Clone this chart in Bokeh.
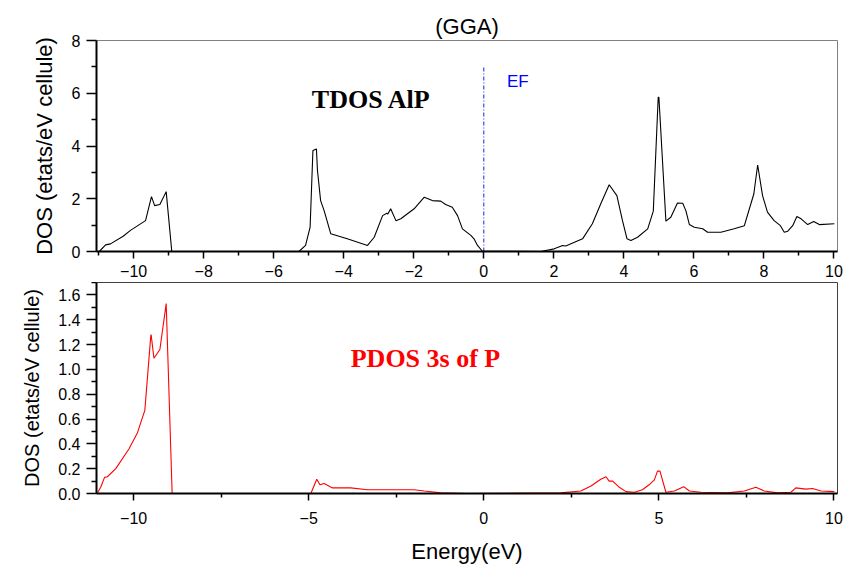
from bokeh.plotting import figure
from bokeh.models import Range1d, FixedTicker, Label, PrintfTickFormatter
from bokeh.layouts import column
from bokeh.embed import file_html
from bokeh.resources import INLINE

# ---- data ----
tdos_energy = [-10.98, -10.8, -10.66, -10.3, -10.09, -9.66, -9.49, -9.4, -9.25, -9.07, -8.91,
               -5.28, -5.09, -4.96, -4.88, -4.78, -4.75, -4.66, -4.56, -4.37, -3.9, -3.32,
               -3.13, -2.89, -2.77, -2.74, -2.66, -2.51, -2.37, -1.99, -1.70, -1.47, -1.23,
               -1.09, -0.9, -0.75, -0.61, -0.37, -0.28, -0.18, -0.04,
               1.63, 2.01, 2.25, 2.34, 2.82, 3.1, 3.34, 3.58, 3.8, 3.96, 4.09, 4.2, 4.39,
               4.68, 4.84, 4.98, 5.0, 5.2, 5.34, 5.53, 5.68, 5.77, 5.87, 6.01, 6.25, 6.39,
               6.77, 7.15, 7.44, 7.71, 7.82, 7.96, 8.1, 8.29, 8.47, 8.58, 8.68, 8.82, 8.94,
               9.06, 9.25, 9.42, 9.58, 10.01]
tdos_values = [0.0, 0.25, 0.29, 0.58, 0.8, 1.17, 2.08, 1.74, 1.78, 2.27, 0.0,
               0.0, 0.23, 0.92, 3.83, 3.89, 3.07, 1.93, 1.55, 0.67, 0.48, 0.23,
               0.54, 1.36, 1.45, 1.42, 1.62, 1.17, 1.24, 1.62, 2.06, 1.93, 1.91,
               1.78, 1.68, 1.36, 0.86, 0.61, 0.48, 0.23, 0.01,
               0.0, 0.1, 0.23, 0.21, 0.48, 1.05, 1.81, 2.53, 2.12, 1.17, 0.48, 0.42, 0.54,
               0.86, 1.53, 5.85, 5.85, 1.15, 1.3, 1.84, 1.83, 1.55, 1.02, 0.92, 0.86, 0.73,
               0.73, 0.86, 0.98, 2.18, 3.28, 2.12, 1.49, 1.17, 0.98, 0.73, 0.77, 0.98, 1.33,
               1.24, 1.02, 1.14, 1.02, 1.05]

pdos_energy = [-11.02, -10.94, -10.83, -10.75, -10.51, -10.13, -9.89, -9.68, -9.51, -9.5,
               -9.42, -9.25, -9.07, -8.9, -4.94, -4.91, -4.77, -4.68, -4.56, -4.32, -3.8,
               -3.32, -1.99, -1.7, -1.23, -0.5, 2.2, 2.77, 3.06, 3.34, 3.49, 3.58, 3.68,
               3.87, 4.06, 4.3, 4.53, 4.72, 4.87, 4.96, 5.03, 5.2, 5.44, 5.71, 5.87, 6.2,
               6.96, 7.44, 7.77, 8.01, 8.39, 8.77, 8.91, 9.2, 9.39, 9.63, 10.01]
pdos_values = [0.01, 0.05, 0.13, 0.135, 0.2, 0.36, 0.49, 0.67, 1.27, 1.28,
               1.09, 1.16, 1.53, 0.0, 0.0, 0.02, 0.115, 0.07, 0.08, 0.045, 0.045,
               0.03, 0.03, 0.02, 0.005, 0.0, 0.005, 0.02, 0.06, 0.115, 0.135, 0.1, 0.1,
               0.05, 0.015, 0.01, 0.03, 0.07, 0.11, 0.18, 0.18, 0.01, 0.02, 0.055, 0.02, 0.01,
               0.005, 0.02, 0.05, 0.02, 0.005, 0.01, 0.045, 0.035, 0.04, 0.02, 0.015]

fermi_energy = [0, 0]
fermi_dos = [0, 7]

top_xticks = [-10, -8, -6, -4, -2, 0, 2, 4, 6, 8, 10]
top_xminor = [-11, -9, -7, -5, -3, -1, 1, 3, 5, 7, 9]
top_yticks = [0, 2, 4, 6, 8]
top_yminor = [1, 3, 5, 7]
bot_xticks = [-10, -5, 0, 5, 10]
bot_xminor = [-7.5, -2.5, 2.5, 7.5]
bot_yticks = [0.0, 0.2, 0.4, 0.6, 0.8, 1.0, 1.2, 1.4, 1.6]
bot_yminor = [0.1, 0.3, 0.5, 0.7, 0.9, 1.1, 1.3, 1.5, 1.7]

SANS = "Liberation Sans"
SERIF = "Liberation Serif"
W = 846


def style(p, xt, xm, yt, ym, yfmt=None):
    p.xgrid.visible = False
    p.ygrid.visible = False
    p.xaxis[0].ticker = FixedTicker(ticks=xt, minor_ticks=xm)
    p.yaxis[0].ticker = FixedTicker(ticks=yt, minor_ticks=ym)
    if yfmt:
        p.yaxis[0].formatter = PrintfTickFormatter(format=yfmt)
    for ax in (p.xaxis[0], p.yaxis[0]):
        ax.axis_line_width = 2
        ax.axis_line_color = "black"
        ax.major_tick_in = 0
        ax.minor_tick_in = 0
        ax.major_tick_line_width = 1.5
        ax.minor_tick_line_width = 1.5
        ax.major_tick_line_color = "black"
        ax.minor_tick_line_color = "black"
        ax.major_label_text_font = SANS
        ax.major_label_text_font_size = "16px"
        ax.major_label_text_color = "black"
        ax.axis_label_text_font = SANS
        ax.axis_label_text_font_size = "22px"
        ax.axis_label_text_font_style = "normal"
        ax.axis_label_text_color = "black"
    p.xaxis[0].major_tick_out = 7
    p.xaxis[0].minor_tick_out = 4
    p.yaxis[0].major_tick_out = 10
    p.yaxis[0].minor_tick_out = 5
    p.xaxis[0].major_label_standoff = 6
    p.yaxis[0].major_label_standoff = 6
    p.yaxis[0].axis_label_standoff = 12


top = figure(width=W, height=282, x_range=Range1d(-11.06, 10.1), y_range=Range1d(0, 8),
             output_backend="svg", toolbar_location=None,
             min_border_left=96, min_border_right=9, min_border_top=40, min_border_bottom=31)
top.title.text = "(GGA)"
top.title.align = "center"
top.title.offset = -26
top.title.standoff = 4
top.title.text_font = SANS
top.title.text_font_size = "22px"
top.title.text_font_style = "normal"
top.title.text_color = "black"
top.outline_line_color = "#808080"
style(top, top_xticks, top_xminor, top_yticks, top_yminor)
top.yaxis[0].axis_label = "DOS (etats/eV cellule)"

top.line(tdos_energy, tdos_values, line_color="black", line_width=1.1)
top.line(fermi_energy, fermi_dos, line_color="#2020d0", line_width=1, line_dash="4 2 1 2")
top.add_layout(Label(x=-4.91, y=5.78, text="TDOS AlP", text_font=SERIF, text_font_style="bold",
                     text_font_size="26px", text_baseline="alphabetic", text_color="black"))
top.add_layout(Label(x=0.66, y=6.44, text="EF", text_font=SANS, text_font_size="17px",
                     text_baseline="alphabetic", text_color="#0000ff"))

bot = figure(width=W, height=286, x_range=Range1d(-11.06, 10.1), y_range=Range1d(0, 1.7),
             output_backend="svg", toolbar_location=None,
             min_border_left=96, min_border_right=9, min_border_top=0, min_border_bottom=75)
bot.outline_line_color = "#404040"
style(bot, bot_xticks, bot_xminor, bot_yticks, bot_yminor, yfmt="%.1f")
bot.xaxis[0].major_label_standoff = 11
bot.xaxis[0].axis_label = "Energy(eV)"
bot.xaxis[0].axis_label_standoff = 12
bot.yaxis[0].axis_label = "DOS (etats/eV cellule)"
bot.yaxis[0].axis_label_text_font_size = "20px"

bot.line(pdos_energy, pdos_values, line_color="red", line_width=1.1)
bot.add_layout(Label(x=-3.8, y=1.084, text="PDOS 3s of P", text_font=SERIF, text_font_style="bold",
                     text_font_size="26px", text_baseline="alphabetic", text_color="red"))

layout = column(top, bot, spacing=0)
open("out.html", "w").write(file_html(layout, INLINE))
